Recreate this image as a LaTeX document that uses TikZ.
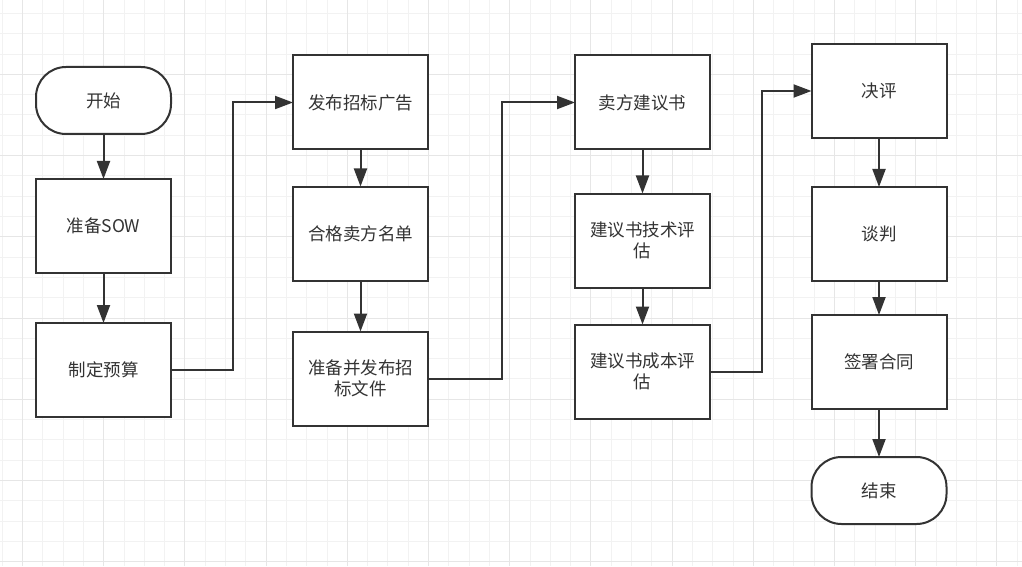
\documentclass[tikz,border=0pt]{standalone}
\usepackage{fontspec}
\setmainfont{Noto Sans CJK SC}
\usetikzlibrary{shapes,arrows,arrows.meta}
\usetikzlibrary{positioning}
\definecolor{ink}{HTML}{333333}
\definecolor{gridfine}{HTML}{F2F2F2}
\definecolor{gridmajor}{HTML}{E6E6E6}

\begin{document}
\begin{tikzpicture}[x=1pt,y=1pt]
 \useasboundingbox (0,0) rectangle (1022,566);
 \fill [white] (0,0) rectangle (1022,566);
 \draw [gridfine, line width=1pt, xshift=2.2pt, yshift=4.4pt, step=20.3pt] (-2.2,-4.4) grid (1019.8,561.6);
 \draw [gridmajor, line width=1pt, xshift=22.5pt, yshift=4.4pt, step=81.2pt] (-22.5,-4.4) grid (999.5,561.6);

 \tikzstyle{def} = [draw=ink, line width=2pt, fill=white, text=ink, minimum width=135pt, minimum height=94pt, inner sep=0pt, outer sep=0pt, align=center, font=\fontsize{17.5}{21}\selectfont];
 \tikzstyle{term} = [def, minimum height=67pt, rounded corners=30pt];

 % first column
 \node (start) [term] at (103.5,465.5) {开始};
 \node (sow) [def, below=45pt of start] {准备SOW};
 \node (budget) [def, below=50pt of sow] {制定预算};
 % second column
 \node (notice) [def] at (360.5,463.5) {发布招标广告};
 \node (sellers) [def, below=37pt of notice] {合格卖方名单};
 \node (tender) [def, below=51pt of sellers] {准备并发布招\\标文件};
 % third column
 \node (proposal) [def] at (642.5,463.5) {卖方建议书};
 \node (techeval) [def, below=44pt of proposal] {建议书技术评\\估};
 \node (costeval) [def, below=37pt of techeval] {建议书成本评\\估};
 % fourth column
 \node (award) [def] at (879,475) {决评};
 \node (negotiate) [def, below=49pt of award] {谈判};
 \node (contract) [def, below=34pt of negotiate] {签署合同};
 \node (finish) [term, below=48pt of contract] {结束};

 \tikzstyle{C} = [draw=ink, line width=2pt, -{Triangle[length=18pt,width=13pt]}];

 \draw [C] (start) -- (sow);
 \draw [C] (sow) -- (budget);
 \draw [C] (budget.east) -- ++(62,0) |- (notice.west);
 \draw [C] (notice) -- (sellers);
 \draw [C] (sellers) -- (tender);
 \draw [C] (tender.east) -- ++(74,0) |- (proposal.west);
 \draw [C] (proposal) -- (techeval);
 \draw [C] (techeval) -- (costeval);
 \draw [C] (costeval.east) -- ++(52,0) |- (award.west);
 \draw [C] (award) -- (negotiate);
 \draw [C] (negotiate) -- (contract);
 \draw [C] (contract) -- (finish);

\end{tikzpicture}
\end{document}
